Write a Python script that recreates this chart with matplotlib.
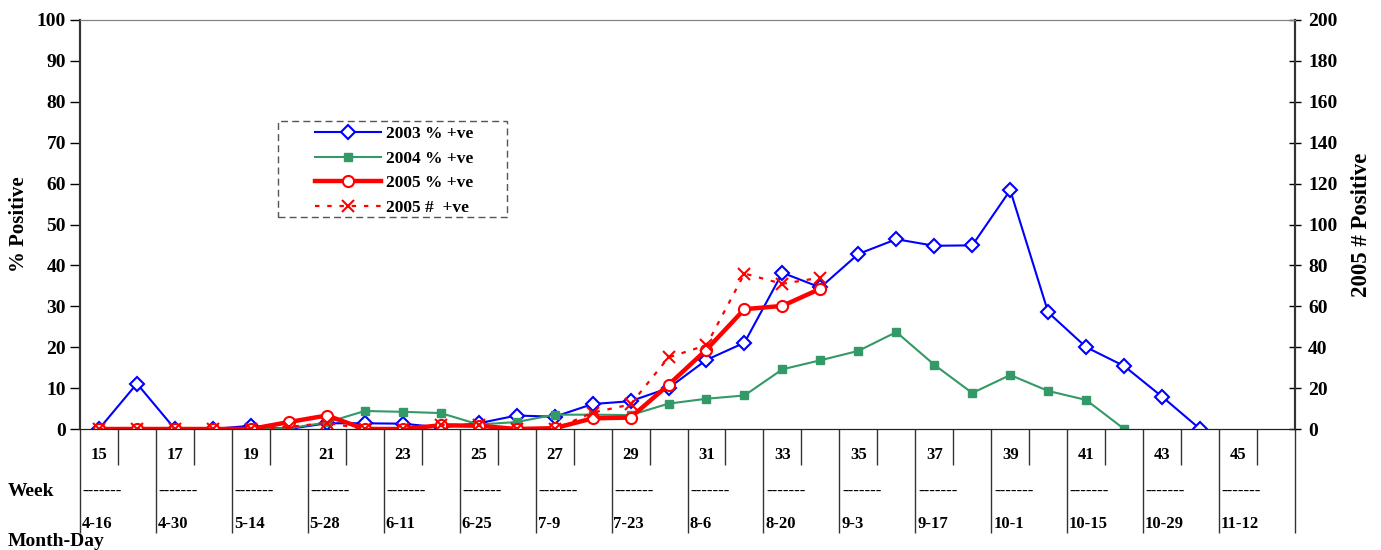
import matplotlib
matplotlib.use("Agg")
import matplotlib.pyplot as plt
from matplotlib.patches import Rectangle

plt.rcParams['font.family'] = ['Liberation Serif', 'DejaVu Serif']
plt.rcParams['font.weight'] = 'bold'

# data
weeks = list(range(15, 47))
weeks_2003 = list(range(15, 45))
pct_2003 = [0, 11.1, 0, 0, 0.8, 0, 1.4, 1.4, 1.3, 0.4, 1.4, 3.3, 3.0, 6.1, 6.8,
            10.0, 16.9, 21.1, 38.2, 34.6, 42.8, 46.4, 44.8, 44.9, 58.4, 28.5,
            20.0, 15.4, 7.9, 0]
weeks_2004 = list(range(15, 43))
pct_2004 = [0, 0, 0, 0, 0, 0.2, 1.6, 4.4, 4.2, 3.9, 1.1, 1.7, 3.5, 3.5, 3.4,
            6.2, 7.4, 8.2, 14.6, 16.8, 19.1, 23.7, 15.7, 8.8, 13.2, 9.3, 7.1, 0]
weeks_2005 = list(range(15, 35))
pct_2005 = [0, 0, 0, 0, 0, 1.7, 3.3, 0, 0, 0.9, 0.8, 0, 0.2, 2.6, 2.8,
            10.8, 19.4, 29.3, 30.1, 34.3]
num_2005 = [0, 0, 0, 0, 0, 1, 3, 0, 0, 2, 2, 0, 0, 8, 12, 35, 41, 76, 71, 74]

week_labels = list(range(15, 46, 2))
date_labels = ["4-16", "4-30", "5-14", "5-28", "6-11", "6-25", "7-9", "7-23",
               "8-6", "8-20", "9-3", "9-17", "10-1", "10-15", "10-29", "11-12"]

W, H = 1381, 550
fig = plt.figure(figsize=(W / 100, H / 100), dpi=100)
ax = fig.add_axes([80 / W, 1 - 429 / H, 1215 / W, 409 / H])
ax2 = ax.twinx()

l1, = ax.plot(weeks_2003, pct_2003, color='#0000FF', lw=1.5, marker='D', ms=7,
              mfc='white', mec='#0000FF', mew=1.5, label='2003 % +ve')
l2, = ax.plot(weeks_2004, pct_2004, color='#339966', lw=1.5, marker='s', ms=6,
              mfc='#339966', mec='#339966', label='2004 % +ve')
l3, = ax.plot(weeks_2005, pct_2005, color='#FF0000', lw=3.2, marker='o', ms=8,
              mfc='white', mec='#FF0000', mew=1.5, label='2005 % +ve')
l4, = ax2.plot(weeks_2005, num_2005, color='#FF0000', lw=1.6, ls=(0, (2, 3.5)),
               marker='x', ms=8, mew=1.5, label='2005 #  +ve')

ax.set_xlim(14.5, 46.5)
ax.set_ylim(0, 100)
ax2.set_ylim(0, 200)
ax.set_yticks(range(0, 101, 10))
ax2.set_yticks(range(0, 201, 20))

# category axis: long ticks every two weeks, short ticks in between
ax.set_xticks([w - 0.5 for w in weeks[::2]] + [46.5])
ax.set_xticks([w + 0.5 for w in weeks[::2]], minor=True)
ax.tick_params(axis='x', which='major', length=75, width=1, color='#333333',
               labelbottom=False)
ax.tick_params(axis='x', which='minor', length=26, width=1, color='#333333',
               labelbottom=False)
ax2.tick_params(axis='x', which='both', bottom=False, labelbottom=False)

ax.tick_params(axis='y', length=7, width=1, labelsize=14, pad=3)
ax2.tick_params(axis='y', direction='inout', length=9, width=1, labelsize=14, pad=5)

for a in (ax, ax2):
    a.spines['top'].set_color('#808080')
    a.spines['left'].set_color('#333333')
    a.spines['right'].set_color('#333333')
    a.spines['bottom'].set_color('#222222')
    a.spines['left'].set_linewidth(1.5)
    a.spines['right'].set_linewidth(1.5)

trans = ax.get_xaxis_transform()
for w, d in zip(week_labels, date_labels):
    ax.text(w, -0.063, str(w), transform=trans, ha='center', va='center',
            fontsize=12, fontweight='bold')
    ax.text(w - 0.43, -0.154, "-------", transform=trans, ha='left', va='center',
            fontsize=12, fontweight='bold')
    ax.text(w - 0.45, -0.232, d, transform=trans, ha='left', va='center',
            fontsize=12, fontweight='bold')

fig.text(8 / W, 1 - 491 / H, "Week", ha='left', va='center',
         fontsize=14, fontweight='bold')
fig.text(8 / W, 1 - 541 / H, "Month-Day", ha='left', va='center',
         fontsize=14, fontweight='bold')

ax.set_ylabel("% Positive", fontsize=15, fontweight='bold', labelpad=6)
ax2.set_ylabel("2005 # Positive", fontsize=16.5, fontweight='bold', labelpad=10)

# legend box drawn separately (wide padding like the original)
fig.patches.append(Rectangle((278 / W, 1 - 217 / H), 229 / W, 96 / H,
                             transform=fig.transFigure, fill=False,
                             edgecolor='#555555', lw=1, ls=(0, (5, 3))))
leg = ax2.legend(handles=[l1, l2, l3, l4], loc='upper left',
                 bbox_to_anchor=(315 / W, 1 - 126 / H),
                 bbox_transform=fig.transFigure, fontsize=12.5,
                 handlelength=3.8, handletextpad=0.3, labelspacing=0.48,
                 borderpad=0, borderaxespad=0, frameon=False)
for t in leg.get_texts():
    t.set_fontweight('bold')

fig.savefig("out.png", dpi=100)
